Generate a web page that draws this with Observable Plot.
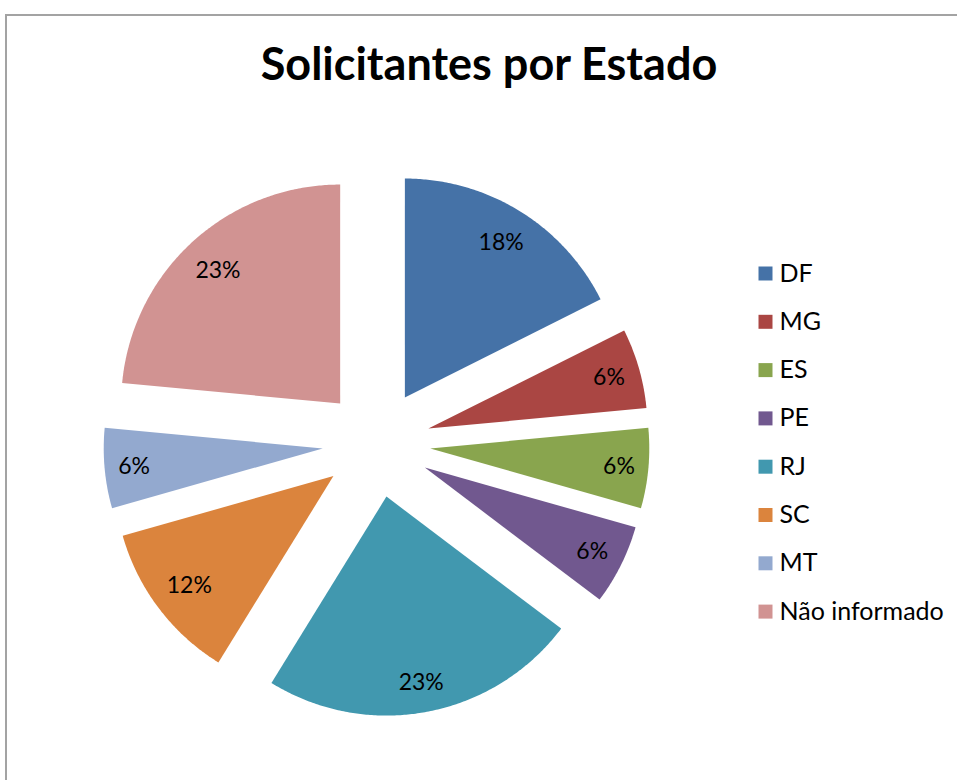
<!DOCTYPE html>
<html>
<head>
<meta charset="utf-8">
<script src="https://cdn.jsdelivr.net/npm/d3@7"></script>
<script src="https://cdn.jsdelivr.net/npm/@observablehq/plot@0.6"></script>
<style>
  html, body { margin: 0; padding: 0; background: #fff; width: 957px; height: 780px; overflow: hidden; }
  #frame { position: absolute; left: 5px; top: 14px; width: 1000px; height: 1000px;
           border-left: 2px solid #a3a3a3; border-top: 2px solid #a3a3a3; }
  #title { position: absolute; left: 0; top: 36px; width: 978px; text-align: center;
           font-family: Lato, "Open Sans", sans-serif; font-weight: bold; font-size: 45px; color: #000; }
  #chart { position: absolute; left: 0; top: 0; }
</style>
</head>
<body>
<div id="frame"></div>
<div id="chart"></div>
<div id="title">Solicitantes por Estado</div>
<script>
// ---- data ----
const categories = ["DF", "MG", "ES", "PE", "RJ", "SC", "MT", "Não informado"];
// slice shares (%)
const values = [17.6, 5.9, 5.9, 5.9, 23.5, 11.8, 5.9, 23.5];
// data labels as printed on the slices
const labels = ["18%", "6%", "6%", "6%", "23%", "12%", "6%", "23%"];
const colors = ["#4572A7", "#AA4643", "#89A54E", "#71588F", "#4198AF", "#DB843D", "#93A9CF", "#D19392"];

// ---- layout ----
const W = 957, H = 780;
const cx = 376, cy = 443, R = 219, explode = 54;
const labelFont = 23, innerR = 205.5, halfH = 12;

const arcs = d3.pie().sort(null).value(d => d)(values);
const pt = (x0, y0, r, a) => [x0 + r * Math.sin(a), y0 - r * Math.cos(a)];

const slicePts = [];
const labelPts = [];
arcs.forEach((a, i) => {
  const mid = (a.startAngle + a.endAngle) / 2;
  const [ax, ay] = pt(cx, cy, explode, mid);
  slicePts.push({cat: categories[i], x: ax, y: ay});
  const n = Math.max(4, Math.ceil((a.endAngle - a.startAngle) / (Math.PI / 360)));
  for (let k = 0; k <= n; k++) {
    const t = a.startAngle + (a.endAngle - a.startAngle) * k / n;
    const [x, y] = pt(ax, ay, R, t);
    slicePts.push({cat: categories[i], x, y});
  }
  // "inside end" label: the label box's outer corner sits on an inner circle
  const hw = labels[i].length * 0.32 * labelFont;
  const ux = Math.abs(Math.sin(mid)), uy = Math.abs(Math.cos(mid));
  const p = ux * hw + uy * halfH;
  const d = -p + Math.sqrt(p * p - (hw * hw + halfH * halfH) + innerR * innerR);
  const [lx, ly] = pt(ax, ay, d, mid);
  labelPts.push({cat: categories[i], x: lx, y: ly + 1, text: labels[i]});
});

const legendX = 765, legendY0 = 273, legendDy = 48.3;
const legend = categories.map((c, i) => ({cat: c, x: legendX, y: legendY0 + i * legendDy}));

const chart = Plot.plot({
  width: W, height: H, margin: 0,
  style: {background: "transparent", fontFamily: "Lato, 'Open Sans', sans-serif"},
  x: {domain: [0, W], range: [0, W], axis: null},
  y: {domain: [0, H], range: [0, H], axis: null},
  color: {type: "ordinal", domain: categories, range: colors},
  marks: [
    Plot.line(slicePts, {x: "x", y: "y", z: "cat", fill: "cat", stroke: null, curve: "linear-closed"}),
    Plot.text(labelPts, {x: "x", y: "y", text: "text", fill: "#000", fontSize: labelFont, textAnchor: "middle"}),
    Plot.dot(legend, {x: "x", y: "y", fill: "cat", symbol: "square", r: 7.9, stroke: null}),
    Plot.text(legend, {x: d => d.x + 14, y: "y", text: "cat", fill: "#000", fontSize: 25, textAnchor: "start"})
  ]
});
document.getElementById("chart").appendChild(chart);
</script>
</body>
</html>
